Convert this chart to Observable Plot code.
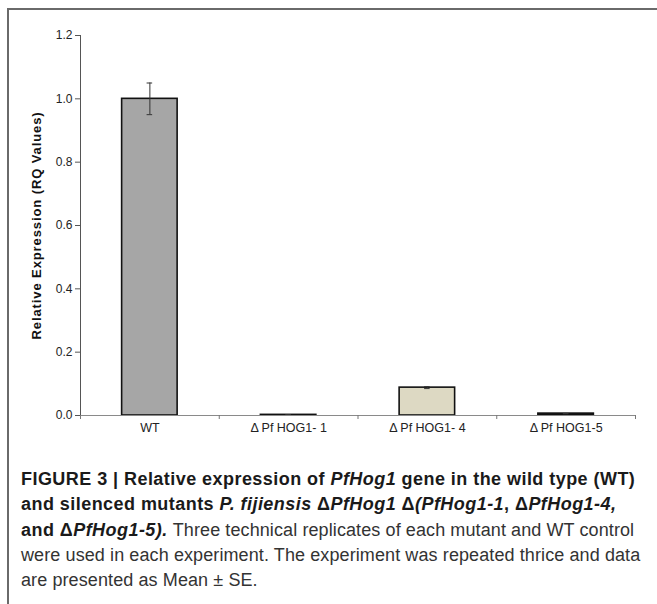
<!DOCTYPE html>
<html>
<head>
<meta charset="utf-8">
<script src="https://cdn.jsdelivr.net/npm/d3@7"></script>
<script src="https://cdn.jsdelivr.net/npm/@observablehq/plot@0.6"></script>
<style>
  html, body { margin: 0; padding: 0; background: #fff; }
  #page { position: relative; width: 657px; height: 604px; overflow: hidden; }
  #frame { position: absolute; left: 7px; top: 8px; right: -5px; bottom: -5px;
           border-top: 2px solid #6a6a6a; border-left: 2px solid #6a6a6a; }
  #chart { position: absolute; left: 0; top: 0; }
  #chart g[aria-label="text"] text { letter-spacing: 0.9px; }
  #caption { position: absolute; left: 21px; top: 467px; width: 640px;
             font-family: "Liberation Sans", Arial, sans-serif; font-size: 18px;
             line-height: 25.3px; color: #333; white-space: nowrap; }
  #caption b { color: #1a1a1a; letter-spacing: 0.45px; }
  #caption .r1 { letter-spacing: 0.1px; }
</style>
</head>
<body>
<div id="page">
  <div id="frame"></div>
  <div id="chart"></div>
  <div id="caption">
    <b>FIGURE 3 | Relative expression of <i>PfHog1</i> gene in the wild type (WT)</b><br>
    <b>and silenced mutants <i>P. fijiensis</i> Δ<i>PfHog1</i> Δ<i>(PfHog1-1</i>, Δ<i>PfHog1-4,</i></b><br>
    <b>and Δ<i>PfHog1-5).</i></b> <span class="r1">Three technical replicates of each mutant and WT control</span><br>
    <span class="r1">were used in each experiment. The experiment was repeated thrice and data</span><br>
    <span class="r1">are presented as Mean ± SE.</span>
  </div>
</div>
<script>
const categories = ["WT", "Δ Pf HOG1- 1", "Δ Pf HOG1- 4", "Δ Pf HOG1-5"];
const values = [1.0, 0.002, 0.088, 0.006];
const errors = [0.05, 0.0005, 0.003, 0.0005];
const fills = ["#a6a6a6", "#111111", "#ddd9c3", "#111111"];
const yTicks = [0, 0.2, 0.4, 0.6, 0.8, 1.0, 1.2];
const yLabel = "Relative Expression (RQ Values)";

const data = categories.map((c, i) => ({
  i, name: c, value: values[i], err: errors[i], fill: fills[i]
}));
const barHalf = 0.2;   // bar occupies 40% of each category slot
const capHalf = 0.02;

const chart = Plot.plot({
  width: 657,
  height: 450,
  marginLeft: 80,
  marginRight: 22,
  marginTop: 35,
  marginBottom: 35,
  style: { fontFamily: "Liberation Sans, Arial, sans-serif", fontSize: "12px", color: "#222", background: "transparent" },
  x: { type: "linear", domain: [0, categories.length] },
  y: { domain: [0, 1.2] },
  marks: [
    Plot.rectY(data, {
      x1: d => d.i + 0.5 - barHalf, x2: d => d.i + 0.5 + barHalf,
      y1: 0, y2: "value", fill: "fill", stroke: "#111", strokeWidth: 1.6
    }),
    Plot.ruleX(data, { x: d => d.i + 0.5, y1: d => d.value - d.err, y2: d => d.value + d.err, stroke: "#333", strokeWidth: 1 }),
    Plot.ruleY(data, { y: d => d.value + d.err, x1: d => d.i + 0.5 - capHalf, x2: d => d.i + 0.5 + capHalf, stroke: "#333", strokeWidth: 1 }),
    Plot.ruleY(data, { y: d => d.value - d.err, x1: d => d.i + 0.5 - capHalf, x2: d => d.i + 0.5 + capHalf, stroke: "#333", strokeWidth: 1 }),
    Plot.axisY({ ticks: yTicks, tickFormat: d3.format(".1f"), tickSize: 5, tickPadding: 3, label: null, stroke: "#555", fill: "#222", fontSize: 12 }),
    Plot.ruleX([0], { stroke: "#555", strokeWidth: 1 }),
    Plot.ruleY([0], { stroke: "#8a8a8a", strokeWidth: 1.2 }),
    Plot.axisX({ ticks: d3.range(categories.length + 1), tickFormat: () => "", tickSize: 4, stroke: "#777", label: null }),
    Plot.axisX({ ticks: categories.map((c, i) => i + 0.5), tickFormat: v => categories[Math.floor(v)], tickSize: 0, tickPadding: 8, label: null, fill: "#222", fontSize: 12.5 }),
    Plot.text([yLabel], { text: d => d, frameAnchor: "left", textAnchor: "middle", rotate: -90, dx: -44, fontWeight: "bold", fontSize: 13, fill: "#111" })
  ]
});
document.getElementById("chart").appendChild(chart);
</script>
</body>
</html>
